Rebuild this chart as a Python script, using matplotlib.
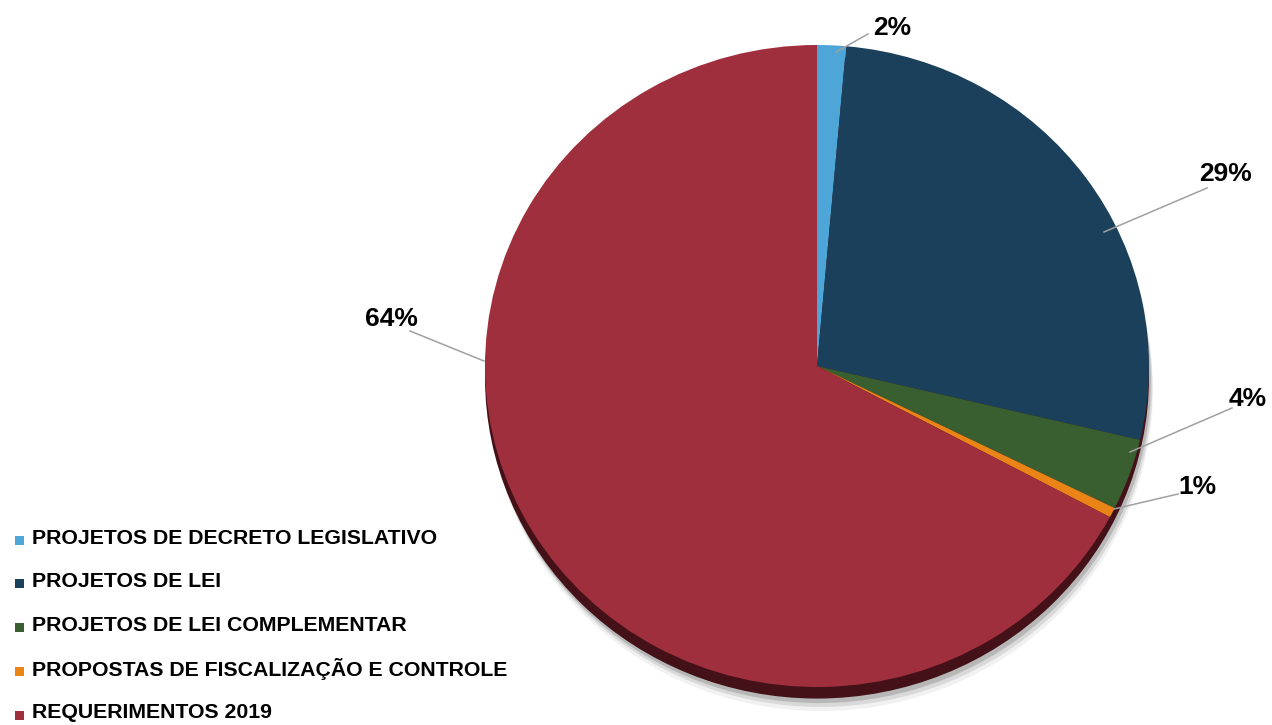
import matplotlib.pyplot as plt
from matplotlib.patches import Ellipse, Rectangle

plt.rcParams['font.family'] = ['Liberation Sans', 'DejaVu Sans']

categories = ['PROJETOS DE DECRETO LEGISLATIVO', 'PROJETOS DE LEI',
              'PROJETOS DE LEI COMPLEMENTAR',
              'PROPOSTAS DE FISCALIZAÇÃO E CONTROLE', 'REQUERIMENTOS 2019']
# slice sizes as drawn (3D perspective) and the printed labels
values = [1.4, 27.3, 3.6, 0.5, 67.2]
pct_labels = ['2%', '29%', '4%', '1%', '64%']
colors = ['#4ea6d8', '#1b405c', '#395f30', '#eb8416', '#9f2f3d']

# label text position and leader line (figure pixels, from top-left)
label_pos = [(892, 28), (1226, 174), (1248, 399), (1197, 487), (391, 319)]
leader = [((868, 34), (836, 52)), ((1207, 188), (1104, 232)),
          ((1232, 408), (1130, 452)), ((1178, 494), (1114, 509)),
          ((410, 331), (484, 361))]

W, H = 1272, 725
fig = plt.figure(figsize=(W / 100, H / 100), dpi=100)

cx, cy, rx, ry = 817, 366, 332, 321
ax = fig.add_axes([(cx - rx) / W, (H - cy - ry) / H, 2 * rx / W, 2 * ry / H])

# depth edge and soft shadow under the pie
for dx, dy, a in [(0.012, -0.075, 0.08), (0.01, -0.062, 0.15), (0.006, -0.05, 0.25)]:
    ax.add_patch(Ellipse((dx, dy), 2.0, 2.0, color='#555555', alpha=a, lw=0, clip_on=False))
ax.add_patch(Ellipse((0, -0.036), 2.0, 2.0, color='#431117', lw=0, clip_on=False))

wedges, _ = ax.pie(values, colors=colors, startangle=90, counterclock=False,
                   radius=1.0, wedgeprops=dict(linewidth=0))
ax.set_aspect('auto')
ax.set_xlim(-1, 1)
ax.set_ylim(-1, 1)
ax.axis('off')

# overlay in pixel coords for labels and legend
ov = fig.add_axes([0, 0, 1, 1])
ov.set_xlim(0, W)
ov.set_ylim(H, 0)
ov.axis('off')
for (tx, ty), txt, (p1, p2) in zip(label_pos, pct_labels, leader):
    ov.plot([p1[0], p2[0]], [p1[1], p2[1]], color='#a0a0a0', lw=1.1)
    ov.text(tx, ty, txt, ha='center', va='center', fontsize=19, fontweight='bold')

for i, (name, c) in enumerate(zip(categories, colors)):
    y = 538 + i * 43.75
    ov.add_patch(Rectangle((15, y - 2.5), 9, 9, color=c, lw=0))
    ov.text(32, y, name, ha='left', va='center', fontsize=15.3, fontweight='bold')

fig.savefig('out.png', dpi=100, facecolor='white')
